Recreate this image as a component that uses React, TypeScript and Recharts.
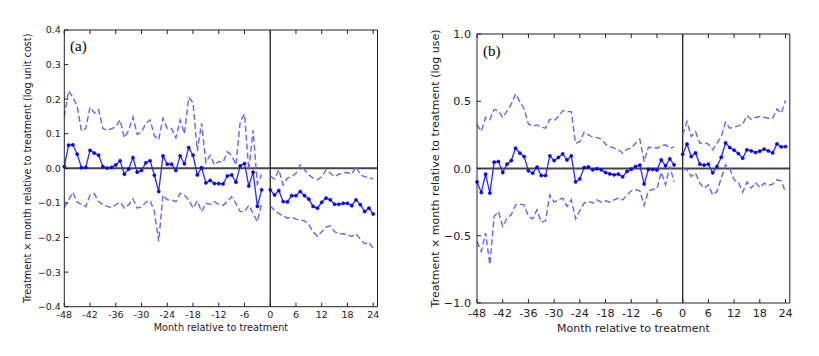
import { LineChart, Line, XAxis, YAxis, ReferenceLine } from "recharts";

const FONT = "DejaVu Sans, sans-serif";
const AXIS = "#222";
const EST = "#2b2bff";
const BAND = "#6464ff";

const preMonths = [
  -48, -47, -46, -45, -44, -43, -42, -41, -40, -39, -38, -37, -36, -35, -34, -33,
  -32, -31, -30, -29, -28, -27, -26, -25, -24, -23, -22, -21, -20, -19, -18, -17,
  -16, -15, -14, -13, -12, -11, -10, -9, -8, -7, -6, -5, -4, -3, -2,
];
const postMonths = [
  0, 1, 2, 3, 4, 5, 6, 7, 8, 9, 10, 11, 12, 13, 14, 15, 16, 17, 18, 19, 20, 21, 22, 23, 24,
];
const xTicks = [-48, -42, -36, -30, -24, -18, -12, -6, 0, 6, 12, 18, 24];

// (a) log unit cost
const aEstPre = [
  0.005, 0.067, 0.068, 0.041, 0.002, 0.003, 0.052, 0.044, 0.038, 0.005,
  0.001, 0.003, 0.01, 0.022, -0.017, -0.002, 0.031, -0.011, -0.006, 0.016,
  0.022, -0.02, -0.067, 0.036, 0.012, 0.012, -0.006, 0.036, 0.013, 0.06,
  0.038, -0.019, 0.002, -0.042, -0.035, -0.044, -0.044, -0.045, -0.022, -0.019,
  -0.04, 0.007, 0.014, -0.051, -0.011, -0.11, -0.062,
];
const aHiPre = [
  0.15, 0.225, 0.205, 0.18, 0.108, 0.115, 0.177, 0.16, 0.17, 0.115,
  0.11, 0.115, 0.12, 0.14, 0.088, 0.11, 0.148, 0.098, 0.105, 0.13,
  0.14, 0.094, 0.083, 0.145, 0.115, 0.115, 0.088, 0.14, 0.1, 0.205,
  0.19, 0.05, 0.13, 0.017, 0.038, 0.01, 0.02, 0.017, 0.048, 0.038,
  0.01, 0.135, 0.157, -0.005, 0.11, -0.045, -0.018,
];
const aLoPre = [
  -0.113, -0.091, -0.069, -0.098, -0.104, -0.111, -0.077, -0.073, -0.096, -0.105,
  -0.11, -0.113, -0.105, -0.098, -0.115, -0.105, -0.088, -0.115, -0.111, -0.098,
  -0.093, -0.125, -0.211, -0.077, -0.091, -0.091, -0.096, -0.072, -0.078, -0.091,
  -0.115, -0.094, -0.125, -0.101, -0.104, -0.096, -0.104, -0.107, -0.096, -0.082,
  -0.101, -0.125, -0.125, -0.107, -0.13, -0.154, -0.101,
];
const aEstPost = [
  -0.062, -0.077, -0.064, -0.096, -0.097, -0.079, -0.079, -0.067, -0.079, -0.089,
  -0.11, -0.115, -0.098, -0.086, -0.091, -0.104, -0.104, -0.101, -0.101, -0.108,
  -0.091, -0.105, -0.125, -0.115, -0.132,
];
const aHiPost = [
  -0.022, -0.031, -0.004, -0.048, -0.028, -0.024, -0.014, 0.01, -0.004, -0.019,
  -0.028, -0.033, -0.024, -0.004, -0.014, -0.024, -0.017, -0.014, -0.012, -0.017,
  0.005, -0.019, -0.024, -0.026, -0.031,
];
const aLoPost = [
  -0.108, -0.122, -0.131, -0.137, -0.144, -0.141, -0.147, -0.149, -0.152, -0.163,
  -0.183, -0.197, -0.183, -0.17, -0.166, -0.183, -0.189, -0.189, -0.192, -0.197,
  -0.189, -0.205, -0.218, -0.214, -0.231,
];
const aTicks = [-0.4, -0.3, -0.2, -0.1, 0, 0.1, 0.2, 0.3, 0.4];

// (b) log use
const bEstPre = [
  -0.1, -0.178, -0.042, -0.183, 0.047, 0.052, -0.03, 0.032, 0.059, 0.151,
  0.114, 0.089, -0.017, -0.035, 0.01, -0.052, -0.052, 0.094, 0.059, 0.082,
  0.109, 0.064, 0.094, -0.1, -0.077, 0.007, 0.012, -0.01, -0.002, -0.01,
  -0.03, -0.04, -0.047, -0.042, -0.062, -0.022, -0.005, 0.015, 0.025, -0.116,
  -0.007, -0.007, -0.012, 0.064, 0.02, 0.072, 0.027,
];
const bHiPre = [
  0.324, 0.275, 0.381, 0.364, 0.44, 0.428, 0.379, 0.428, 0.478, 0.554,
  0.497, 0.443, 0.329, 0.317, 0.324, 0.307, 0.3, 0.366, 0.356, 0.386,
  0.43, 0.423, 0.423, 0.188, 0.2, 0.27, 0.25, 0.233, 0.23, 0.22,
  0.18, 0.163, 0.151, 0.139, 0.114, 0.144, 0.151, 0.188, 0.218, 0.052,
  0.158, 0.156, 0.151, 0.168, 0.176, 0.151, 0.161,
];
const bLoPre = [
  -0.542, -0.616, -0.48, -0.715, -0.356, -0.32, -0.431, -0.369, -0.344, -0.27,
  -0.265, -0.27, -0.356, -0.374, -0.307, -0.399, -0.389, -0.196, -0.25, -0.233,
  -0.22, -0.282, -0.233, -0.374, -0.314, -0.257, -0.245, -0.257, -0.233, -0.25,
  -0.24, -0.25, -0.233, -0.22, -0.233, -0.196, -0.166, -0.158, -0.166, -0.275,
  -0.166, -0.156, -0.151, -0.027, -0.121, 0.015, -0.1,
];
const bEstPost = [
  0.106, 0.181, 0.089, 0.116, 0.032, 0.025, 0.032, -0.032, 0.015, 0.084,
  0.19, 0.156, 0.136, 0.111, 0.077, 0.139, 0.131, 0.119, 0.129, 0.144,
  0.131, 0.116, 0.183, 0.161, 0.163,
];
const bHiPost = [
  0.25, 0.349, 0.238, 0.275, 0.188, 0.193, 0.181, 0.139, 0.188, 0.238,
  0.344, 0.3, 0.307, 0.317, 0.329, 0.394, 0.366, 0.379, 0.386, 0.381,
  0.374, 0.374, 0.443, 0.411, 0.505,
];
const bLoPost = [
  0.0, -0.01, -0.059, -0.035, -0.109, -0.146, -0.121, -0.196, -0.171, -0.072,
  0.027, -0.002, -0.084, -0.104, -0.176, -0.1, -0.146, -0.104, -0.141, -0.109,
  -0.126, -0.116, -0.084, -0.092, -0.176,
];
const bTicks = [-1, -0.5, 0, 0.5, 1];

function buildRows(
  estPre: number[], hiPre: number[], loPre: number[],
  estPost: number[], hiPost: number[], loPost: number[]
) {
  const rows: any[] = preMonths.map((m, i) => ({ m, est: estPre[i], hi: hiPre[i], lo: loPre[i] }));
  // month -1 is the omitted reference month
  rows.push({ m: -1, est: null, hi: null, lo: null });
  postMonths.forEach((m, i) => rows.push({ m, est: estPost[i], hi: hiPost[i], lo: loPost[i] }));
  return rows;
}

const dataA = buildRows(aEstPre, aHiPre, aLoPre, aEstPost, aHiPost, aLoPost);
const dataB = buildRows(bEstPre, bHiPre, bLoPre, bEstPost, bHiPost, bLoPost);

const fmtY = (v: number) => v.toFixed(1).replace("-", "\u2212");

function Panel({
  data, ticks, domain, yLabel, fs, lfs, tickDy, yGap, margin, labelOffset, yLabelOffset,
}: any) {
  const bottomTick = (p: any) => (
    <g>
      <line x1={p.x} x2={p.x} y1={p.y} y2={p.y - 4} stroke={AXIS} />
      <text x={p.x} y={p.y + tickDy} textAnchor="middle" fontSize={fs} fontFamily={FONT} fill="#222">
        {p.payload.value}
      </text>
    </g>
  );
  const topTick = (p: any) => <line x1={p.x} x2={p.x} y1={p.y} y2={p.y + 4} stroke={AXIS} />;
  const leftTick = (p: any) => (
    <g>
      <line x1={p.x} x2={p.x + 4} y1={p.y} y2={p.y} stroke={AXIS} />
      <text x={p.x - yGap} y={p.y + fs * 0.36} textAnchor="end" fontSize={fs} fontFamily={FONT} fill="#222">
        {fmtY(p.payload.value)}
      </text>
    </g>
  );
  const rightTick = (p: any) => <line x1={p.x} x2={p.x - 4} y1={p.y} y2={p.y} stroke={AXIS} />;

  return (
    <LineChart width={margin.w} height={356} data={data} margin={margin.m}>
      <XAxis
        dataKey="m" type="number" domain={[-48, 25]} ticks={xTicks} interval={0}
        tickSize={0} tickMargin={0} tick={bottomTick} height={30} stroke={AXIS}
        label={{ value: "Month relative to treatment", position: "insideBottom", offset: labelOffset, fontSize: lfs, fontFamily: FONT, fill: "#222" }}
      />
      <XAxis
        xAxisId="top" orientation="top" dataKey="m" type="number" domain={[-48, 25]} ticks={xTicks}
        interval={0} tickSize={0} tickMargin={0} tick={topTick} height={1} stroke={AXIS}
      />
      <YAxis
        type="number" domain={domain} ticks={ticks} interval={0} tickSize={0} tickMargin={0}
        tick={leftTick} width={44} stroke={AXIS}
        label={{ value: yLabel, angle: -90, position: "insideLeft", offset: yLabelOffset, fontSize: lfs, fontFamily: FONT, fill: "#222", style: { textAnchor: "middle" } }}
      />
      <YAxis
        yAxisId="right" orientation="right" type="number" domain={domain} ticks={ticks} interval={0}
        tickSize={0} tickMargin={0} tick={rightTick} width={1} stroke={AXIS}
      />
      <ReferenceLine y={0} stroke="#444" strokeWidth={2} />
      <ReferenceLine x={0} stroke="#222" strokeWidth={1.3} />
      <Line dataKey="hi" stroke={BAND} strokeWidth={1.4} strokeDasharray="6 3" dot={false} isAnimationActive={false} />
      <Line dataKey="lo" stroke={BAND} strokeWidth={1.4} strokeDasharray="6 3" dot={false} isAnimationActive={false} />
      <Line
        dataKey="est" stroke={EST} strokeWidth={1.3}
        dot={{ r: 1.6, fill: "#0000ff", stroke: "#0000ff", strokeWidth: 0.5 }}
        isAnimationActive={false}
      />
    </LineChart>
  );
}

export default function App() {
  return (
    <div style={{ position: "absolute", left: 0, top: 0, width: 819, height: 356, background: "#fff" }}>
      <div style={{ position: "absolute", left: 0, top: 0 }}>
        <Panel
          data={dataA} ticks={aTicks} domain={[-0.4, 0.4]}
          yLabel="Treatment × month relative to treatment (log unit cost)"
          fs={9.5} lfs={9.7} tickDy={11.6} yGap={3.5} labelOffset={5.7} yLabelOffset={7.2}
          margin={{ w: 410, m: { top: 29, right: 31.5, bottom: 19.3, left: 20.3 } }}
        />
      </div>
      <div style={{ position: "absolute", left: 410, top: 0 }}>
        <Panel
          data={dataB} ticks={bTicks} domain={[-1, 1]}
          yLabel="Treatment × month relative to treatment (log use)"
          fs={11.2} lfs={11} tickDy={13.7} yGap={6} labelOffset={1} yLabelOffset={2}
          margin={{ w: 409, m: { top: 33, right: 28.2, bottom: 23, left: 23 } }}
        />
      </div>
      <div style={{ position: "absolute", left: 70, top: 39, fontFamily: "Liberation Serif, serif", fontSize: 15, lineHeight: "15px" }}>
        (a)
      </div>
      <div style={{ position: "absolute", left: 483, top: 43.5, fontFamily: "Liberation Serif, serif", fontSize: 15, lineHeight: "15px" }}>
        (b)
      </div>
    </div>
  );
}
